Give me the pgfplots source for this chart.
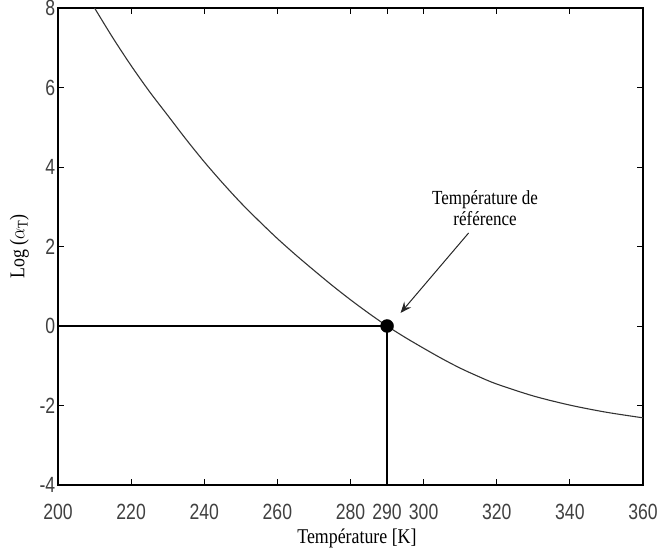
\documentclass[border=0pt]{standalone}
\usepackage{fontspec}
\setmainfont{Liberation Serif}
\newfontfamily\arial{Liberation Sans}
\usepackage{pgfplots}
\pgfplotsset{compat=1.18}
\usetikzlibrary{arrows.meta}

\begin{document}
\begin{tikzpicture}
\path[use as bounding box] (-58pt,-67pt) rectangle (600pt,485pt);
\begin{axis}[
    at={(0,0)}, anchor=south west,
    scale only axis,
    width=585pt, height=477pt,
    xmin=200, xmax=360, ymin=-4, ymax=8,
    xtick={200,220,240,260,280,290,300,320,340,360},
    ytick={-4,-2,0,2,4,6,8},
    tick align=inside,
    major tick length=6pt,
    axis line style={line width=1.6pt},
    tick style={line width=0.9pt, black},
    /pgf/number format/assume math mode=true,
    xticklabel style={font=\arial\fontsize{22}{22}\selectfont, text=black!75, xscale=0.8, yshift=-16pt},
    yticklabel style={font=\arial\fontsize{22}{22}\selectfont, text=black!75, xscale=0.8},
    xlabel={\scalebox{0.85}[1]{Température [K]}},
    ylabel={\scalebox{0.85}[1]{Log ($\alpha_{\mathrm{T}}$)}},
    label style={font=\fontsize{21}{21}\selectfont},
    xlabel style={at={(axis description cs:0.511,0)}, anchor=base, yshift=-58pt},
    ylabel style={at={(axis description cs:-0.066,0.5)}, anchor=center},
]
% courbe log(aT)
\addplot[smooth, line width=1.1pt, black!80] coordinates {
    (210,8.00) (215,7.25) (220,6.55) (225,5.90) (230,5.30) (235,4.70)
    (240,4.13) (245,3.60) (250,3.10) (255,2.64) (260,2.20) (265,1.79)
    (270,1.40) (275,1.02) (280,0.66) (285,0.32) (290,0.00) (295,-0.29)
    (300,-0.56) (305,-0.82) (310,-1.06) (315,-1.27) (320,-1.46)
    (330,-1.76) (340,-1.99) (350,-2.17) (360,-2.31)
};
% lignes de référence
\addplot[line width=1.3pt, black] coordinates {(200,0) (290,0)};
\addplot[line width=1.3pt, black] coordinates {(290,-4) (290,0)};
% point de référence
\addplot[only marks, mark=*, mark size=6.5pt, black] coordinates {(290,0)};

\node[align=center, font=\fontsize{20}{21}\selectfont, xscale=0.85, inner sep=0pt]
    at (axis cs:316.8,2.97) {Température de\\référence};
\draw[line width=1pt, black!85, -{Stealth[length=11pt, width=9pt, inset=4pt]}]
    (axis cs:312.3,2.34) -- (axis cs:293.7,0.33);
\end{axis}
\end{tikzpicture}
\end{document}
